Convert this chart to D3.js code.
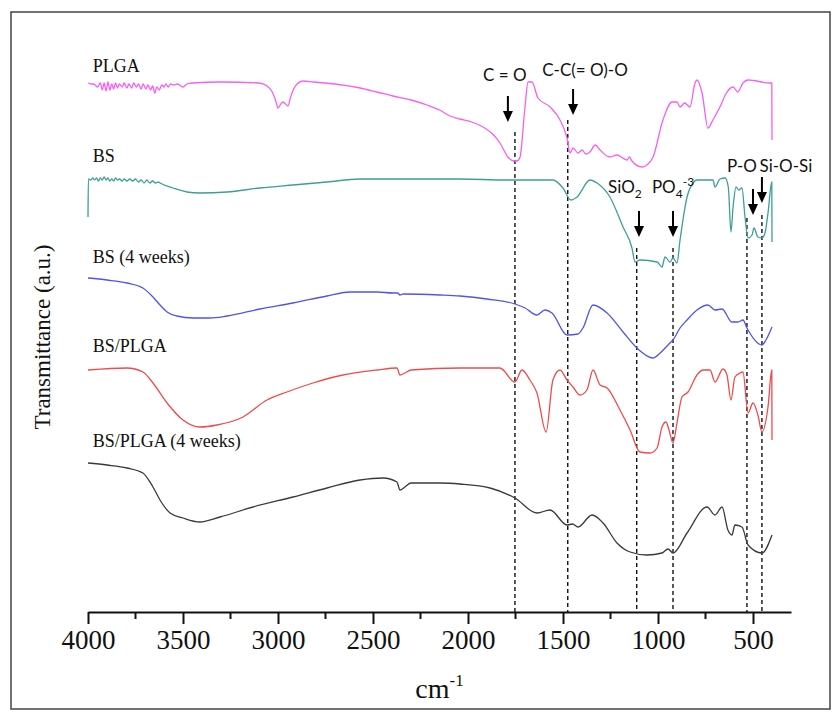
<!DOCTYPE html>
<html>
<head>
<meta charset="utf-8">
<script src="https://cdn.jsdelivr.net/npm/d3@7/dist/d3.min.js"></script>
<style>
  body { margin: 0; background: #fff; }
  svg { display: block; }
</style>
</head>
<body>
<svg class="ftir"></svg>
<script>
// wavenumber (cm-1), transmittance (a.u., curves already offset)
var plga = [[4000,52.9],[3985,52.8],[3970,52.8],[3950,52.5],[3935,52.9],[3925,52.2],[3915,52.9],[3905,52.1],
  [3895,53.0],[3885,52.2],[3875,52.8],[3865,52.3],[3855,52.9],[3845,52.4],[3835,52.8],[3820,52.5],[3810,52.9],
  [3795,52.4],[3785,52.8],[3770,52.4],[3760,52.9],[3745,52.5],[3735,52.8],[3720,52.3],[3710,52.8],[3695,52.3],
  [3685,52.7],[3670,52.2],[3660,52.6],[3648,51.9],[3638,52.5],[3625,52.2],[3612,52.7],[3600,52.5],[3590,52.8],
  [3578,52.5],[3565,52.8],[3550,52.7],[3530,52.8],[3500,52.5],[3480,52.8],[3450,52.9],[3300,53.0],[3100,52.9],
  [3058,52.6],[3030,52.0],[3010,51.0],[3000,50.4],[2985,50.8],[2974,51.0],[2960,50.8],[2947,50.6],[2935,51.4],
  [2920,52.2],[2900,52.8],[2868,53.1],[2816,53.0],[2700,52.8],[2568,52.4],[2480,52.0],[2395,51.6],[2300,51.2],
  [2216,50.7],[2150,50.2],[2095,49.6],[2042,49.3],[1980,49.0],[1921,48.5],[1870,47.8],[1832,46.9],[1790,45.5],
  [1760,45.1],[1742,45.1],[1726,45.5],[1700,50.5],[1684,53.0],[1663,53.0],[1632,51.4],[1568,50.5],[1516,49.2],
  [1479,47.4],[1463,45.9],[1447,46.4],[1421,45.9],[1400,46.2],[1380,45.8],[1358,46.0],[1330,46.7],[1305,46.2],
  [1253,45.5],[1216,45.7],[1163,45.2],[1150,45.5],[1137,45.1],[1084,44.5],[1058,44.7],[1026,45.5],[974,49.2],
  [926,51.0],[900,51.0],[884,50.5],[860,50.9],[832,50.5],[805,52.9],[795,53.2],[768,51.9],[737,48.4],[711,49.2],
  [674,50.5],[640,51.9],[605,52.5],[580,52.0],[553,52.9],[526,53.2],[411,52.9],[401,52.9],[400,47.2]];

var bs = [[4000,39.5],[3998,43.3],[3985,43.2],[3975,43.4],[3965,43.2],[3955,43.4],[3945,43.1],[3935,43.4],
  [3925,43.2],[3915,43.5],[3905,43.2],[3895,43.4],[3885,43.1],[3875,43.3],[3865,43.1],[3855,43.4],[3845,43.2],
  [3835,43.3],[3820,43.1],[3810,43.3],[3795,43.1],[3780,43.3],[3765,43.1],[3750,43.3],[3735,43.0],[3720,43.2],
  [3705,42.9],[3690,43.2],[3675,42.9],[3660,43.1],[3645,42.9],[3630,43.0],[3621,42.9],[3553,42.4],[3479,42.0],
  [3411,41.9],[3268,42.0],[3095,42.4],[2921,42.7],[2742,43.0],[2568,43.3],[2395,43.3],[2042,43.3],[1800,43.2],
  [1553,43.2],[1500,42.4],[1458,41.2],[1426,41.5],[1358,43.2],[1321,42.9],[1253,41.5],[1184,38.5],[1137,36.4],
  [1121,35.0],[1095,35.2],[1005,35.0],[979,34.5],[963,35.5],[937,35.0],[921,35.4],[900,34.9],[884,37.2],
  [847,41.5],[816,42.9],[795,43.2],[711,43.2],[700,42.5],[674,43.3],[647,43.4],[630,42.5],[616,38.0],[605,40.5],
  [589,42.5],[575,42.2],[558,42.4],[542,39.5],[526,37.4],[505,37.7],[495,38.4],[474,37.5],[453,37.4],[437,37.9],
  [421,39.9],[401,43.0],[400,37.0]];

var bs4w = [[4000,33.4],[3900,33.2],[3795,32.9],[3711,32.4],[3658,31.5],[3621,30.7],[3584,30.0],[3532,29.6],
  [3447,29.4],[3358,29.4],[3268,29.6],[3095,30.3],[2921,30.9],[2742,31.6],[2621,32.0],[2479,32.0],[2395,31.9],
  [2370,31.9],[2358,31.7],[2340,31.8],[2147,31.7],[2042,31.6],[1900,31.3],[1753,30.8],[1700,30.4],[1637,29.7],
  [1595,30.2],[1558,29.9],[1479,27.7],[1421,27.8],[1395,28.4],[1342,30.7],[1268,29.9],[1184,28.0],[1111,26.4],
  [1026,25.4],[989,25.9],[937,26.9],[921,27.2],[884,28.4],[847,29.2],[795,30.2],[737,30.7],[700,30.2],[663,30.3],
  [611,29.0],[579,29.0],[553,29.2],[532,28.4],[453,26.7],[432,27.2],[400,28.5]];

var bsPlga = [[4000,24.2],[3795,24.4],[3711,24.0],[3658,22.9],[3584,20.9],[3500,19.2],[3411,18.5],[3321,18.7],
  [3184,19.5],[3058,21.2],[2953,22.0],[2816,22.9],[2658,23.7],[2479,24.2],[2374,24.4],[2358,23.7],[2332,23.9],
  [2300,24.2],[2042,24.4],[1832,24.4],[1753,23.0],[1716,24.2],[1674,23.2],[1637,21.9],[1589,18.0],[1553,23.2],
  [1516,24.2],[1479,23.2],[1447,22.5],[1411,21.7],[1374,22.2],[1342,24.2],[1305,22.7],[1268,22.4],[1200,20.2],
  [1147,18.2],[1095,16.0],[1042,15.9],[1005,16.4],[979,18.5],[958,19.0],[942,18.2],[921,16.9],[900,18.9],
  [874,21.5],[842,22.0],[795,23.7],[763,24.2],[726,24.2],[700,23.0],[658,24.3],[637,23.7],[616,21.2],[595,23.5],
  [568,23.9],[553,24.0],[526,19.9],[500,20.9],[474,19.7],[453,18.0],[421,20.5],[401,24.2],[400,17.2]];

var bsPlga4w = [[4000,14.9],[3900,14.7],[3795,14.4],[3711,13.9],[3658,12.5],[3621,11.2],[3568,9.9],[3500,9.4],
  [3411,9.0],[3305,9.5],[3132,10.5],[2921,11.5],[2742,12.4],[2568,13.2],[2447,13.4],[2374,13.0],[2358,12.2],
  [2332,12.5],[2300,12.9],[2147,12.9],[2042,12.8],[1884,12.4],[1753,11.4],[1637,9.9],[1568,10.2],[1479,8.7],
  [1450,8.8],[1421,8.5],[1347,9.7],[1289,8.9],[1216,6.9],[1147,6.0],[1058,5.7],[979,5.9],[947,6.3],[921,5.9],
  [847,7.9],[742,10.5],[700,9.7],[663,10.5],[632,8.2],[611,7.7],[595,8.7],[558,8.5],[526,6.7],[453,5.9],[400,7.7]];

var seriesNames = ["PLGA", "BS", "BS (4 weeks)", "BS/PLGA", "BS/PLGA (4 weeks)"];
var seriesLabelLevel = [54.0, 45.0, 34.9, 26.0, 16.5];
var majorTicks = [4000, 3500, 3000, 2500, 2000, 1500, 1000, 500];
var minorTicks = [3750, 3250, 2750, 2250, 1750, 1250, 750];

// band markers: wavenumber of dashed line, arrow, label
var bandLabels = ["C = O", "C-C(= O)-O", "SiO2", "PO4-3", "P-O", "Si-O-Si"];
var bandLines = [1753, 1475, 1112, 921, 532, 453];
var bandLineTop = [48.0, 49.2, 36.4, 36.4, 39.4, 39.7];
var bandArrows = [1790, 1447, 1100, 921, 500, 453];
var bandArrowTip = [49.0, 49.7, 37.5, 37.5, 39.7, 40.9];
var bandLabelPos = [1806, 1384, 1174, 921, 558, 327];
var bandLabelLevel = [53.1, 53.6, 41.9, 41.9, 44.0, 44.0];

var colors = ["#f75ef5", "#3c9f98", "#5252f0", "#f04a4c", "#3a3a3a"];
var allSeries = [plga, bs, bs4w, bsPlga, bsPlga4w];

var width = 835, height = 716;
var svg = d3.select(".ftir").attr("width", width).attr("height", height);

svg.append("rect")
  .attr("x", 11).attr("y", 12)
  .attr("width", 819).attr("height", 697)
  .attr("fill", "none")
  .attr("stroke", "#444")
  .attr("stroke-width", 1.5);

var x = d3.scaleLinear().domain([4000, 300]).range([88, 791]);
var y = d3.scaleLinear().domain([0, 60]).range([612, 12]);

// dashed guides
svg.selectAll(".guide")
  .data(bandLines)
  .enter().append("line")
  .attr("class", "guide")
  .attr("x1", function(d) { return x(d); })
  .attr("x2", function(d) { return x(d); })
  .attr("y1", function(d, i) { return y(bandLineTop[i]); })
  .attr("y2", y(0))
  .attr("stroke", "#111")
  .attr("stroke-width", 1.4)
  .attr("stroke-dasharray", "4,3");

// spectra
var line = d3.line()
  .curve(d3.curveMonotoneX)
  .x(function(d) { return x(d[0]); })
  .y(function(d) { return y(d[1]); });

svg.selectAll(".spectrum")
  .data(allSeries)
  .enter().append("path")
  .attr("class", "spectrum")
  .attr("d", line)
  .attr("fill", "none")
  .attr("stroke", function(d, i) { return colors[i]; })
  .attr("stroke-width", 1.3)
  .attr("stroke-linejoin", "round");

svg.selectAll(".series-label")
  .data(seriesNames)
  .enter().append("text")
  .attr("class", "series-label")
  .attr("x", x(3975))
  .attr("y", function(d, i) { return y(seriesLabelLevel[i]); })
  .attr("font-family", "'Liberation Serif', 'Times New Roman', serif")
  .attr("font-size", 18)
  .style("fill", "#111")
  .text(function(d) { return d; });

// arrows
var arrows = svg.selectAll(".arrow")
  .data(bandArrows)
  .enter().append("g")
  .attr("class", "arrow")
  .attr("transform", function(d, i) { return "translate(" + x(d) + "," + y(bandArrowTip[i]) + ")"; });
arrows.append("line")
  .attr("x1", 0).attr("x2", 0)
  .attr("y1", -26).attr("y2", -8)
  .attr("stroke", "#000")
  .attr("stroke-width", 2);
arrows.append("path")
  .attr("d", "M-5,-11L5,-11L0,0Z")
  .attr("fill", "#000");

// band labels
var bandText = svg.selectAll(".band-label")
  .data(bandLabels)
  .enter().append("text")
  .attr("class", "band-label")
  .attr("x", function(d, i) { return x(bandLabelPos[i]); })
  .attr("y", function(d, i) { return y(bandLabelLevel[i]); })
  .attr("text-anchor", "middle")
  .attr("font-family", "Lato, 'Open Sans', sans-serif")
  .attr("font-size", 17)
  .style("fill", "#111");

bandText.each(function(d) {
  var t = d3.select(this);
  if (d === "SiO2") {
    t.append("tspan").text("SiO");
    t.append("tspan").attr("dy", 5).attr("font-size", 12).text("2");
  } else if (d === "PO4-3") {
    t.append("tspan").text("PO");
    t.append("tspan").attr("dy", 5).attr("font-size", 12).text("4");
    t.append("tspan").attr("dy", -12).attr("font-size", 12).text("-3");
  } else {
    t.text(d);
  }
});

// x axis
var axis = d3.axisBottom(x)
  .tickValues(majorTicks)
  .tickSize(12)
  .tickSizeOuter(0)
  .tickPadding(6)
  .tickFormat(d3.format("d"));

var gx = svg.append("g")
  .attr("transform", "translate(0," + y(0) + ")")
  .call(axis)
  .attr("font-family", "'Liberation Serif', 'Times New Roman', serif")
  .attr("font-size", 27);
gx.select(".domain").attr("stroke-width", 2).attr("stroke", "#111");
gx.selectAll(".tick line").attr("stroke-width", 2).attr("stroke", "#111");
gx.selectAll(".tick text").attr("fill", "#111");

gx.selectAll(".minor")
  .data(minorTicks)
  .enter().append("line")
  .attr("class", "minor")
  .attr("x1", function(d) { return x(d); })
  .attr("x2", function(d) { return x(d); })
  .attr("y1", 0).attr("y2", 7)
  .attr("stroke", "#111")
  .attr("stroke-width", 2);

var xt = svg.append("text")
  .attr("x", (x(4000) + x(300)) / 2)
  .attr("y", 698)
  .attr("text-anchor", "middle")
  .attr("font-family", "'Liberation Serif', 'Times New Roman', serif")
  .attr("font-size", 28)
  .style("fill", "#111");
xt.append("tspan").text("cm");
xt.append("tspan").attr("dy", -12).attr("font-size", 17).text("-1");

svg.append("text")
  .attr("transform", "translate(50,337) rotate(-90)")
  .attr("text-anchor", "middle")
  .attr("font-family", "'Liberation Serif', 'Times New Roman', serif")
  .attr("font-size", 23)
  .style("fill", "#111")
  .text("Transmittance (a.u.)");
</script>
</body>
</html>
